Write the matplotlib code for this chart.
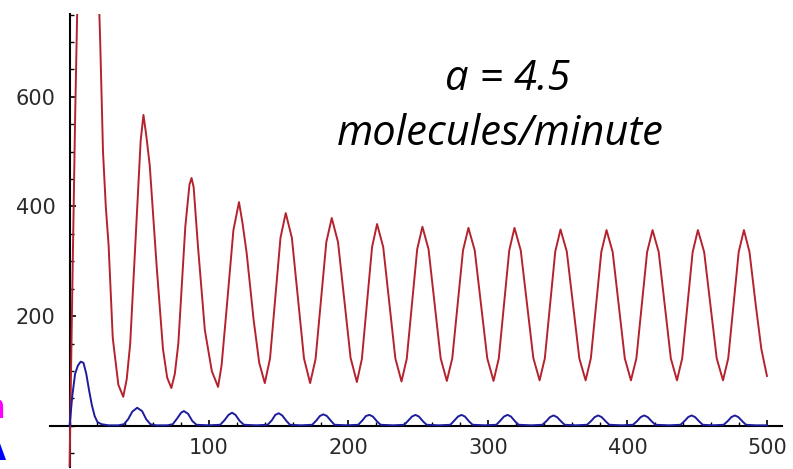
import matplotlib
matplotlib.use("Agg")
import matplotlib.pyplot as plt
from matplotlib.ticker import MultipleLocator, FixedLocator

# red series (upper, oscillating) - readings
red_t = [0, 2, 4, 6, 10, 15, 19, 22, 24, 26, 28, 31, 35, 38.5,
         41, 43.5, 48, 51, 53, 55, 57.5, 62.5, 67, 70, 73,
         75.5, 78, 83, 86, 87.5, 89, 92, 97, 102, 106.5,
         109, 112.5, 117.5, 121.5, 124, 127, 132, 136, 140,
         143.75, 147.5, 151.25, 155, 159.4, 163.75, 168.1, 172.5,
         176.4, 180.25, 184.1, 188, 192.5, 197, 201.5, 206,
         209.6, 213.25, 216.9, 220.5, 224.9, 229.25, 233.6, 238,
         241.75, 245.5, 249.25, 253, 257.4, 261.75, 266.1, 270.5,
         274.4, 278.25, 282.1, 286, 290.5, 295, 299.5, 304,
         307.75, 311.5, 315.25, 319, 323.5, 328, 332.5, 337,
         340.75, 344.5, 348.25, 352, 356.5, 361, 365.5, 370,
         373.75, 377.5, 381.25, 385, 389.4, 393.75, 398.1, 402.5,
         406.4, 410.25, 414.1, 418, 422.4, 426.75, 431.1, 435.5,
         439.25, 443, 446.75, 450.5, 455, 459.5, 464, 468.5,
         472.25, 476, 479.75, 483.5, 487.5, 492, 496, 500]
red_v = [-80, 250, 560, 820, 1000, 1050, 950, 700, 500, 400, 330, 160, 75, 53,
         85, 150, 370, 520, 567, 530, 475, 290, 140, 88, 69,
         95, 150, 363, 440, 452, 435, 330, 175, 100, 71,
         110, 210, 357, 408, 370, 315, 193, 115, 78,
         123, 233, 343, 388, 343, 233, 123, 78,
         122, 228, 335, 379, 335, 229, 124, 80,
         122, 224, 326, 368, 326, 224, 123, 81,
         122, 222, 322, 363, 322, 222, 123, 82,
         123, 221, 320, 361, 320, 221, 123, 82,
         123, 221, 320, 361, 320, 222, 124, 83,
         123, 220, 318, 358, 318, 220, 123, 83,
         123, 220, 317, 357, 317, 220, 123, 83,
         123, 220, 317, 357, 317, 220, 123, 83,
         123, 220, 317, 357, 317, 220, 123, 83,
         123, 220, 317, 357, 317, 220, 140, 91]

# blue series (lower, small bumps)
blue_t = [0, 2, 4, 6, 8, 10, 12, 14, 16, 18, 20, 23, 28, 35,
          39, 42, 45, 48.5, 52, 55, 58, 62, 70,
          74, 77, 80, 82, 85, 88, 91, 100,
          108, 111, 114, 116.5, 119, 122, 125, 134,
          142, 145, 147.5, 150, 152.5, 155.5, 158, 166,
          174, 177, 179.5, 182, 184.5, 187.5, 190, 199,
          207, 210, 212.5, 215, 217.5, 220.5, 223, 232,
          240, 243, 245.5, 248, 250.5, 253.5, 256, 265,
          273, 276, 278.5, 281, 283.5, 286.5, 289, 298,
          306, 309, 311.5, 314, 316.5, 319.5, 322, 331,
          339, 342, 344.5, 347, 349.5, 352.5, 355, 363,
          371, 374, 376.5, 379, 381.5, 384.5, 387, 396,
          404, 407, 409.5, 412, 414.5, 417.5, 420, 430,
          438, 441, 443.5, 446, 448.5, 451.5, 454, 461,
          469, 472, 474.5, 477, 479.5, 482.5, 485, 492, 500]
blue_v = [0, 55, 95, 110, 117, 115, 95, 65, 38, 18, 7, 3, 1, 1,
          3, 12, 26, 33, 27, 12, 3, 1, 1,
          3, 13, 24, 27, 22, 9, 2, 1,
          2, 10, 20, 24, 20, 9, 2, 1,
          2, 10, 20, 23, 19, 9, 2, 1,
          2, 10, 18, 21, 18, 9, 2, 1,
          2, 10, 18, 20, 17, 8, 2, 1,
          2, 10, 17, 20, 17, 8, 2, 1,
          2, 10, 17, 20, 17, 8, 2, 1,
          2, 10, 17, 20, 17, 8, 2, 1,
          2, 9, 16, 19, 16, 8, 2, 1,
          2, 9, 16, 19, 16, 8, 2, 1,
          2, 9, 16, 19, 16, 8, 2, 1,
          2, 9, 16, 19, 16, 8, 2, 1,
          2, 9, 16, 19, 16, 8, 2, 1, 1]

x_major = [100, 200, 300, 400, 500]
y_major = [200, 400, 600]

W, H = 793, 469
fig = plt.figure(figsize=(W / 100, H / 100), dpi=100)
ax = fig.add_axes([50 / W, 2 / H, 732 / W, 453 / H])
ax.set_xlim(-14, 510.8)
ax.set_ylim(-75, 751)

ax.plot(red_t, red_v, color="#b5222e", lw=1.4, zorder=3, clip_on=True)
ax.plot(blue_t, blue_v, color="#1c1c9c", lw=1.4, zorder=4)

for side in ["top", "right"]:
    ax.spines[side].set_visible(False)
ax.spines["left"].set_position(("data", 0))
ax.spines["bottom"].set_position(("data", 0))
for side in ["left", "bottom"]:
    ax.spines[side].set_linewidth(1.5)
    ax.spines[side].set_color("black")

ax.xaxis.set_major_locator(FixedLocator(x_major))
ax.yaxis.set_major_locator(FixedLocator(y_major))
ax.xaxis.set_minor_locator(MultipleLocator(20))
ax.yaxis.set_minor_locator(MultipleLocator(50))
ax.tick_params(which="major", direction="in", length=4, width=1.2,
               labelsize=15, labelcolor="#2a2a2a", color="black")
ax.tick_params(which="minor", direction="in", length=3, width=1.0, color="black")
ax.tick_params(axis="x", which="major", pad=9)
ax.tick_params(axis="y", which="major", pad=10)
ax.set_facecolor("white")

fig.text(508 / W, 1 - 79 / H, "a = 4.5", ha="center", va="center",
         fontsize=30, style="italic", family="Open Sans")
fig.text(500 / W, 1 - 134 / H, "molecules/minute", ha="center", va="center",
         fontsize=30, style="italic", family="Open Sans")

# cut-off fragments at the left edge (partly outside the picture, as in the source)
fig.text(5 / W, 1 - 418 / H, "n", ha="right", va="baseline",
         fontsize=24, fontweight="bold", color="#ff00ff")
fig.text(6 / W, 0, "A", ha="right", va="bottom",
         fontsize=30, fontweight="bold", color="#0000ff")

fig.savefig("out.png", dpi=100)
